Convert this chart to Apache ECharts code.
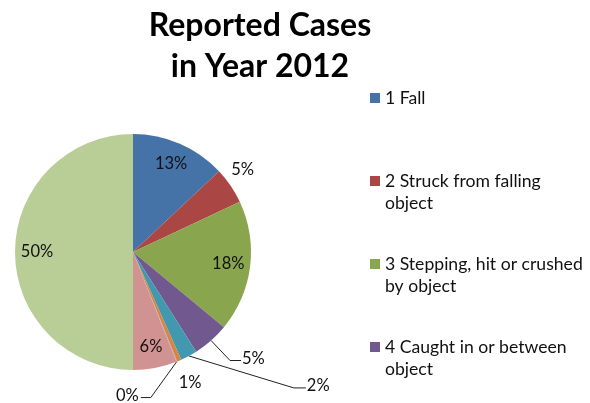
<!DOCTYPE html>
<html>
<head>
<meta charset="utf-8">
<script src="https://cdn.jsdelivr.net/npm/echarts@6/dist/echarts.min.js"></script>
<style>
html,body{margin:0;padding:0;background:#fff;}
#chart{width:590px;height:403px;}
</style>
</head>
<body>
<div id="chart"></div>
<script>
// ---- data ----
const titleText = 'Reported Cases\nin Year 2012';
const categories = [
  '1 Fall',
  '2 Struck from falling\nobject',
  '3 Stepping, hit or crushed\nby object',
  '4 Caught in or between\nobject',
  '5', '6', '7', '8', '9'
];
const values = [13, 5, 18, 5, 2.3, 0.6, 0.1, 6, 50];
const colors = ['#4572A7', '#AA4643', '#89A54E', '#71588F', '#4198AF', '#DB843D', '#93A9CF', '#D19392', '#B9CD96'];
const legendItems = categories.slice(0, 4);

// ---- label styling (not data) ----
// 'in' = inside label, 'out' = outside, no leader, 'line' = outside with leader
const labelMode = ['in', 'out', 'in', 'line', 'line', 'out', 'line', 'in', 'in'];
const outSpec = {
  1: { dx: 12, dy: -16 },
  3: { line: [[19, 20], [30, 20]], align: 'left' },
  4: { line: [[105, 32], [117, 32]], align: 'left' },
  5: { dx: 11, dy: 22 },
  6: { line: [[-26, 36], [-36, 36]], align: 'right' }
};

const FONT = 'Lato, "Open Sans", sans-serif';
const pct = p => Math.round(p.percent) + '%';

const chart = echarts.init(document.getElementById('chart'), null, { renderer: 'canvas' });

const mainData = categories.map((n, i) => ({
  name: n,
  value: values[i],
  itemStyle: { color: colors[i] },
  label: { show: labelMode[i] !== 'in' },
  labelLine: {
    show: labelMode[i] !== 'in',
    lineStyle: { opacity: labelMode[i] === 'line' ? 1 : 0 }
  }
}));
const innerData = categories.map((n, i) => ({
  name: n,
  value: values[i],
  label: { show: labelMode[i] === 'in' }
}));

chart.setOption({
  backgroundColor: '#ffffff',
  animation: false,
  title: {
    text: titleText,
    left: 260,
    top: 5,
    padding: 0,
    textAlign: 'center',
    textStyle: { fontFamily: FONT, fontSize: 32, fontWeight: 'bold', color: '#000', lineHeight: 41 }
  },
  legend: {
    data: legendItems,
    orient: 'vertical',
    left: 370,
    top: 65,
    padding: 0,
    itemGap: 17,
    itemWidth: 10,
    itemHeight: 10,
    itemStyle: { borderWidth: 0 },
    icon: 'rect',
    selectedMode: false,
    formatter: n => ' \n' + n + (n.indexOf('\n') < 0 ? '\n ' : ''),
    textStyle: { fontFamily: FONT, fontSize: 17.6, lineHeight: 22, color: '#111' }
  },
  series: [
    {
      type: 'pie',
      center: [133, 252],
      radius: [0, 118],
      startAngle: 90,
      clockwise: true,
      avoidLabelOverlap: false,
      itemStyle: { borderWidth: 0 },
      label: { position: 'outside', formatter: pct, fontFamily: FONT, fontSize: 16.5, color: '#111' },
      labelLine: { length: 10, length2: 10, lineStyle: { color: '#222', width: 1 } },
      labelLayout: function (p) {
        const s = outSpec[p.dataIndex];
        if (!s || !p.labelLinePoints) return {};
        const p0 = p.labelLinePoints[0];
        if (s.line) {
          const a = [p0[0] + s.line[0][0], p0[1] + s.line[0][1]];
          const b = [p0[0] + s.line[1][0], p0[1] + s.line[1][1]];
          return {
            x: b[0] + (s.align === 'right' ? -2 : 1), y: b[1] - 2,
            align: s.align, verticalAlign: 'middle',
            labelLinePoints: [p0, a, b]
          };
        }
        return { x: p0[0] + s.dx, y: p0[1] + s.dy, align: 'center', verticalAlign: 'middle', labelLinePoints: [p0, p0, p0] };
      },
      data: mainData
    },
    {
      type: 'pie',
      center: [133, 252],
      radius: [68, 118],
      startAngle: 90,
      clockwise: true,
      silent: true,
      avoidLabelOverlap: false,
      itemStyle: { color: 'rgba(0,0,0,0)', borderWidth: 0 },
      label: { position: 'inside', formatter: pct, fontFamily: FONT, fontSize: 16.5, color: '#111' },
      labelLine: { show: false },
      data: innerData
    }
  ]
});
</script>
</body>
</html>
